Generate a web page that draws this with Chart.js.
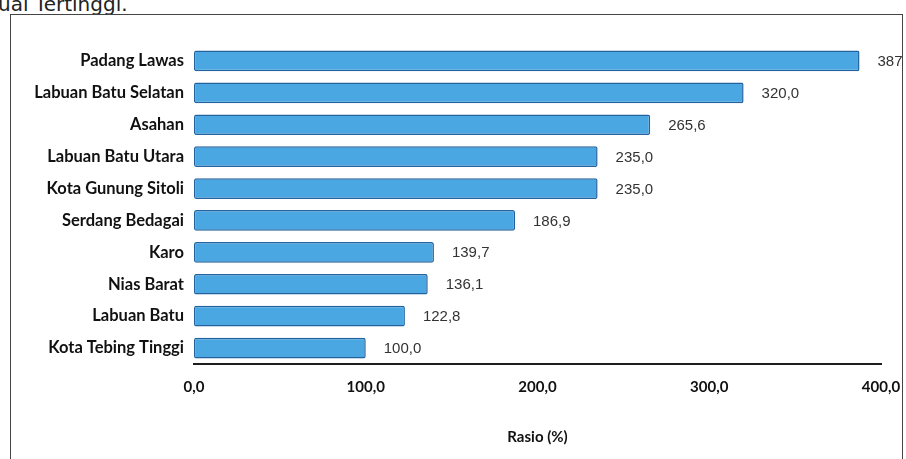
<!DOCTYPE html>
<html lang="id">
<head>
  <meta charset="UTF-8">
  <title>Rasio (%)</title>
  <script src="https://cdn.jsdelivr.net/npm/chart.js"></script>
  <style>
    body {
      background-color: white;
      margin: 0;
      padding: 0;
      overflow: hidden;
      width: 906px;
      height: 459px;
      position: relative;
    }

    .judul {
      position: absolute;
      left: -2px;
      top: -8px;
      font-family: "DejaVu Sans", sans-serif;
      font-size: 20px;
      color: #222;
      white-space: nowrap;
    }

    .kotak {
      position: absolute;
      left: 10px;
      top: 14px;
      width: 891px;
      height: 460px;
      border: 1px solid #444;
      background: white;
    }

    canvas {
      display: block;
    }
  </style>
</head>
<body>

  <div class="judul">uai Tertinggi.</div>

  <div class="kotak">
    <canvas id="rasioChart" width="891" height="444"></canvas>
  </div>

  <script>
    // data
    const kabupaten = [
      'Padang Lawas', 'Labuan Batu Selatan', 'Asahan', 'Labuan Batu Utara',
      'Kota Gunung Sitoli', 'Serdang Bedagai', 'Karo', 'Nias Barat',
      'Labuan Batu', 'Kota Tebing Tinggi'
    ];
    const rasio = [387.5, 320.0, 265.6, 235.0, 235.0, 186.9, 139.7, 136.1, 122.8, 100.0];
    const tickX = [0, 100, 200, 300, 400];

    const formatKoma = v => v.toFixed(1).replace('.', ',');

    // label angka di ujung batang
    const labelNilai = {
      id: 'labelNilai',
      afterDatasetsDraw(chart) {
        const ctx = chart.ctx;
        const meta = chart.getDatasetMeta(0);
        ctx.save();
        ctx.font = '15px "Liberation Sans", Arial, sans-serif';
        ctx.fillStyle = '#333';
        ctx.textAlign = 'left';
        ctx.textBaseline = 'middle';
        meta.data.forEach((bar, i) => {
          ctx.fillText(formatKoma(rasio[i]), bar.x + 18, bar.y + 1);
        });
        ctx.restore();
      }
    };

    const ctx = document.getElementById('rasioChart').getContext('2d');
    const chart = new Chart(ctx, {
      type: 'bar',
      data: {
        labels: kabupaten,
        datasets: [{
          data: rasio,
          backgroundColor: '#4ba7e1',
          borderColor: '#22629f',
          borderWidth: 1.5,
          borderSkipped: false,
          borderRadius: 2,
          barPercentage: 0.72,
          categoryPercentage: 0.9
        }]
      },
      options: {
        indexAxis: 'y',
        responsive: false,
        animation: false,
        devicePixelRatio: 1,
        layout: {
          padding: { top: 30, right: 0, bottom: 0, left: 0 }
        },
        plugins: {
          legend: { display: false },
          tooltip: { enabled: false }
        },
        scales: {
          x: {
            min: 0,
            max: 400,
            afterBuildTicks(scale) {
              scale.ticks = tickX.map(v => ({ value: v }));
            },
            afterFit(scale) {
              scale.height = 95;
              scale.paddingLeft = 0;
              scale.paddingRight = 21;
            },
            grid: { display: false, drawTicks: false },
            border: { display: true, color: '#1e1e1e', width: 2 },
            ticks: {
              padding: 14,
              color: '#111',
              font: { family: 'Lato', size: 15, weight: 'bold' },
              callback: v => formatKoma(v)
            },
            title: {
              display: true,
              text: 'Rasio (%)',
              color: '#111',
              font: { family: 'Lato', size: 15, weight: 'bold' },
              padding: { top: 0, bottom: 13 }
            }
          },
          y: {
            afterFit(scale) {
              scale.width = 183;
            },
            grid: { display: false, drawTicks: false },
            border: { display: false },
            ticks: {
              padding: 10,
              color: '#111',
              font: { family: 'Lato', size: 16.5, weight: 'bold' }
            }
          }
        }
      },
      plugins: [labelNilai]
    });
  </script>

</body>
</html>
